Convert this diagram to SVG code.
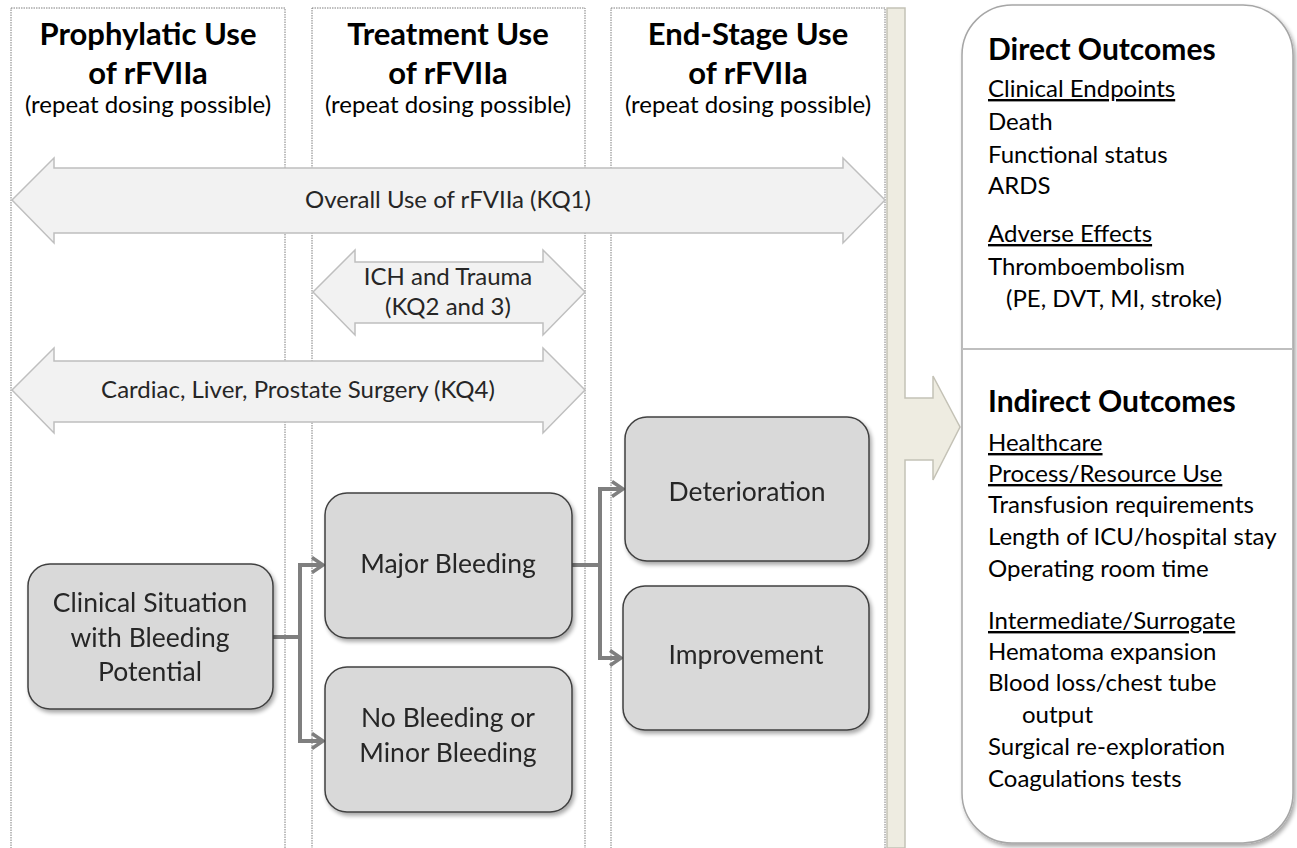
<svg xmlns="http://www.w3.org/2000/svg" width="1297" height="848" viewBox="0 0 1297 848">
<style>
  text { font-family: Lato, "Open Sans", "Liberation Sans", sans-serif; fill: #000; }
  .hd { font-size: 31px; font-weight: bold; text-anchor: middle; }
  .sub { font-size: 24px; text-anchor: middle; }
  .col { fill: #fff; stroke: #7f7f7f; stroke-width: 1; stroke-dasharray: 1.5 1; }
  .darr { fill: #f2f2f2; stroke: #bfbfbf; stroke-width: 1.5; }
  .alab { font-size: 24px; text-anchor: middle; fill: #262626; }
  .node { fill: #d9d9d9; stroke: #404040; stroke-width: 1.5; }
  .ntxt { font-size: 26.5px; text-anchor: middle; fill: #262626; }
  .conn { fill: none; stroke: #7f7f7f; stroke-width: 4; stroke-linejoin: miter; }
  .oh { font-size: 30px; font-weight: bold; }
  .ot { font-size: 24px; }
  .ou { font-size: 24px; text-decoration: underline; }
</style>
<defs>
  <filter id="sh" x="-10%" y="-10%" width="130%" height="130%">
    <feGaussianBlur in="SourceAlpha" stdDeviation="2"/>
    <feOffset dx="2" dy="3" result="b"/>
    <feComponentTransfer><feFuncA type="linear" slope="0.35"/></feComponentTransfer>
    <feMerge><feMergeNode/><feMergeNode in="SourceGraphic"/></feMerge>
  </filter>
  <marker id="ah" viewBox="0 0 14 18" refX="12" refY="9" markerWidth="14" markerHeight="18" markerUnits="userSpaceOnUse" orient="auto">
    <path d="M1,1.5 L12,9 L1,16.5" fill="none" stroke="#7f7f7f" stroke-width="3.5"/>
  </marker>
</defs>
<rect width="1297" height="848" fill="#fff"/>

<!-- columns -->
<g id="columns">
  <rect class="col" x="11" y="8" width="274" height="845"/>
  <rect class="col" x="312" y="8" width="273" height="845"/>
  <rect class="col" x="611" y="8" width="274" height="845"/>
</g>

<!-- beige bar arrow -->
<g id="flow-arrow">
  <path d="M887,8 L905,8 L905,398 L933,398 L933,376 L960,427 L933,480 L933,460 L905,460 L905,848 L887,848 Z" fill="#eeece1" stroke="#c4c2b6" stroke-width="1.5"/>
</g>

<!-- headers -->
<g id="hdr-prophylactic">
  <text class="hd" x="148" y="45">Prophylatic Use</text>
  <text class="hd" x="148" y="84">of rFVIIa</text>
  <text class="sub" x="148" y="113">(repeat dosing possible)</text>
</g>
<g id="hdr-treatment">
  <text class="hd" x="448" y="45">Treatment Use</text>
  <text class="hd" x="448" y="84">of rFVIIa</text>
  <text class="sub" x="448" y="113">(repeat dosing possible)</text>
</g>
<g id="hdr-endstage">
  <text class="hd" x="748" y="45">End-Stage Use</text>
  <text class="hd" x="748" y="84">of rFVIIa</text>
  <text class="sub" x="748" y="113">(repeat dosing possible)</text>
</g>

<!-- double arrows -->
<g id="arrow-overall">
  <path class="darr" d="M12,200 L54,158 L54,168 L843,168 L843,158 L885,200 L843,243 L843,233 L54,233 L54,243 Z"/>
  <text class="alab" x="448" y="208">Overall Use of rFVIIa (KQ1)</text>
</g>
<g id="arrow-ich">
  <path class="darr" d="M313,292 L355,250 L355,262 L543,262 L543,250 L585,292 L543,335 L543,323 L355,323 L355,335 Z"/>
  <text class="alab" x="448" y="285">ICH and Trauma</text>
  <text class="alab" x="448" y="315">(KQ2 and 3)</text>
</g>
<g id="arrow-surgery">
  <path class="darr" d="M12,390 L54,348 L54,361 L543,361 L543,348 L585,390 L543,433 L543,422 L54,422 L54,433 Z"/>
  <text class="alab" x="298" y="398">Cardiac, Liver, Prostate Surgery (KQ4)</text>
</g>

<!-- connectors -->
<g id="connectors">
  <path class="conn" d="M273,637 L300,637"/>
  <path class="conn" d="M300,565 L300,741"/>
  <path class="conn" d="M298,565 L323,565" marker-end="url(#ah)"/>
  <path class="conn" d="M298,741 L323,741" marker-end="url(#ah)"/>
  <path class="conn" d="M572,565 L600,565"/>
  <path class="conn" d="M600,489 L600,659"/>
  <path class="conn" d="M598,489 L623,489" marker-end="url(#ah)"/>
  <path class="conn" d="M598,658 L621,658" marker-end="url(#ah)"/>
</g>

<!-- nodes -->
<g id="node-clinical" filter="url(#sh)">
  <rect class="node" x="28" y="564" width="245" height="145" rx="22"/>
  <text class="ntxt" x="150" y="612">Clinical Situation</text>
  <text class="ntxt" x="150" y="647">with Bleeding</text>
  <text class="ntxt" x="150" y="681">Potential</text>
</g>
<g id="node-major" filter="url(#sh)">
  <rect class="node" x="325" y="493" width="247" height="145" rx="22"/>
  <text class="ntxt" x="448" y="573">Major Bleeding</text>
</g>
<g id="node-nobleed" filter="url(#sh)">
  <rect class="node" x="325" y="667" width="247" height="145" rx="22"/>
  <text class="ntxt" x="448" y="727">No Bleeding or</text>
  <text class="ntxt" x="448" y="762">Minor Bleeding</text>
</g>
<g id="node-deterioration" filter="url(#sh)">
  <rect class="node" x="625" y="417" width="244" height="144" rx="22"/>
  <text class="ntxt" x="747" y="501">Deterioration</text>
</g>
<g id="node-improvement" filter="url(#sh)">
  <rect class="node" x="623" y="586" width="246" height="144" rx="22"/>
  <text class="ntxt" x="746" y="664">Improvement</text>
</g>

<!-- outcomes -->
<g id="outcomes">
  <rect x="962" y="5" width="331" height="838" rx="50" fill="#fff" stroke="#a6a6a6" stroke-width="1.5" filter="url(#sh)"/>
  <line x1="962" y1="349" x2="1293" y2="349" stroke="#bfbfbf" stroke-width="2"/>
  <text class="oh" x="988" y="60">Direct Outcomes</text>
  <text class="ou" x="988" y="97">Clinical Endpoints</text>
  <text class="ot" x="988" y="130">Death</text>
  <text class="ot" x="988" y="163">Functional status</text>
  <text class="ot" x="988" y="194">ARDS</text>
  <text class="ou" x="988" y="242">Adverse Effects</text>
  <text class="ot" x="988" y="275">Thromboembolism</text>
  <text class="ot" x="1006" y="307">(PE, DVT, MI, stroke)</text>
  <text class="oh" x="988" y="412">Indirect Outcomes</text>
  <text class="ou" x="988" y="451">Healthcare</text>
  <text class="ou" x="988" y="482">Process/Resource Use</text>
  <text class="ot" x="988" y="513">Transfusion requirements</text>
  <text class="ot" x="988" y="545">Length of ICU/hospital stay</text>
  <text class="ot" x="988" y="577">Operating room time</text>
  <text class="ou" x="988" y="629">Intermediate/Surrogate</text>
  <text class="ot" x="988" y="660">Hematoma expansion</text>
  <text class="ot" x="988" y="691">Blood loss/chest tube</text>
  <text class="ot" x="1022" y="723">output</text>
  <text class="ot" x="988" y="755">Surgical re-exploration</text>
  <text class="ot" x="988" y="787">Coagulations tests</text>
</g>
</svg>
